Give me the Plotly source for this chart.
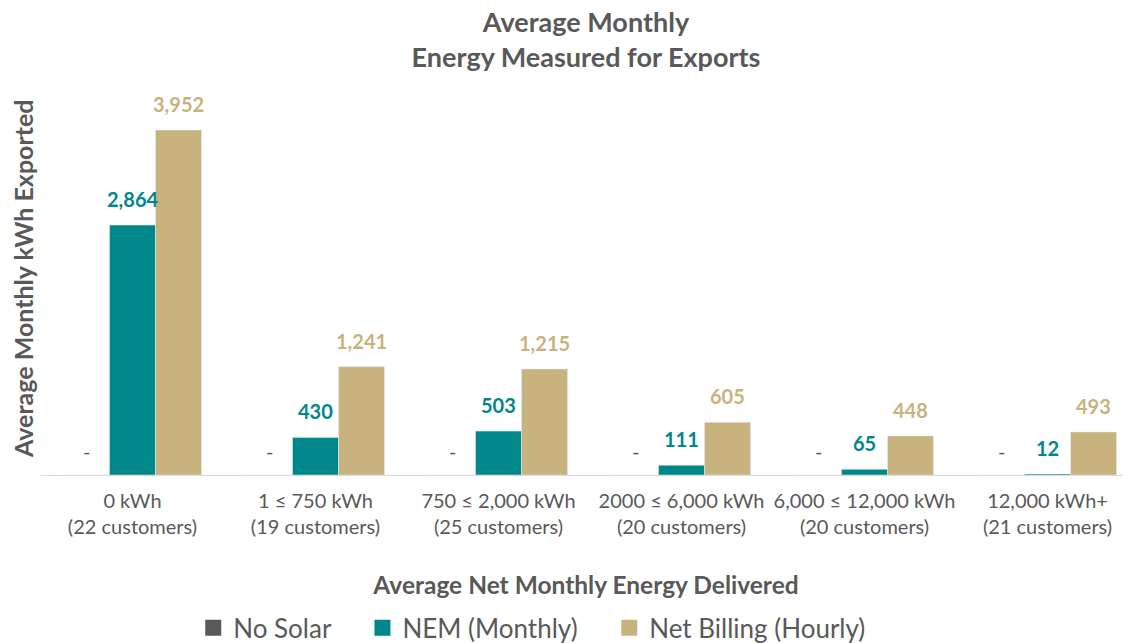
import plotly.graph_objects as go

categories = ["0 kWh<br>(22 customers)", "1 ≤ 750 kWh<br>(19 customers)",
              "750 ≤ 2,000 kWh<br>(25 customers)", "2000 ≤ 6,000 kWh<br>(20 customers)",
              "6,000 ≤ 12,000 kWh<br>(20 customers)", "12,000 kWh+<br>(21 customers)"]
no_solar = [0, 0, 0, 0, 0, 0]
nem_monthly = [2864, 430, 503, 111, 65, 12]
net_billing = [3952, 1241, 1215, 605, 448, 493]

series = [
    ("No Solar", no_solar, "#595959"),
    ("NEM (Monthly)", nem_monthly, "#00878A"),
    ("Net Billing (Hourly)", net_billing, "#C8B27D"),
]

FONT = "Lato, 'Open Sans', sans-serif"
GRAY = "#595959"
BARGAP = 0.246
xs = list(range(len(categories)))

fig = go.Figure()
annotations = []
n = len(series)
bw = (1 - BARGAP) / n
for k, (name, vals, color) in enumerate(series):
    fig.add_trace(go.Bar(x=xs, y=vals, name=name, marker_color=color,
                         hoverinfo="y", showlegend=False, legendgroup=name))
    lab_color = GRAY if k == 0 else color
    for i, v in enumerate(vals):
        annotations.append(dict(
            x=i + (k - (n - 1) / 2) * bw, y=v, xref="x", yref="y",
            text=f"<b>{v:,}</b>" if v else "-", showarrow=False,
            yanchor="bottom", yshift=12 if v else 10,
            font=dict(family=FONT, size=20, color=lab_color),
        ))
# legend entries with larger square swatches
for name, vals, color in series:
    fig.add_trace(go.Scatter(x=[None], y=[None], mode="markers", name=name + "\u00a0" * 4,
                             legendgroup=name,
                             marker=dict(symbol="square", size=16, color=color)))

# y-axis title placed as a rotated annotation
annotations.append(dict(
    text="<b>Average Monthly kWh Exported</b>", textangle=-90,
    xref="paper", yref="paper", x=-0.0165, y=0.5104,
    xanchor="center", yanchor="middle", showarrow=False,
    font=dict(family=FONT, size=25, color=GRAY),
))

W, H = 1123, 635
fig.update_layout(
    width=W, height=H,
    barmode="group", bargap=BARGAP, bargroupgap=0,
    plot_bgcolor="white", paper_bgcolor="white",
    margin=dict(l=33, r=0, t=83, b=168, autoexpand=False),
    title=dict(text="<b>Average Monthly<br>Energy Measured for Exports</b>",
               x=578 / W, xanchor="center", yref="container", y=1 - 24 / H,
               yanchor="middle",
               font=dict(family=FONT, size=27, color=GRAY)),
    font=dict(family=FONT, color=GRAY),
    xaxis=dict(tickvals=xs, ticktext=categories, range=[-0.5, 5.456],
               automargin=False,
               showline=True, linecolor="#D9D9D9", linewidth=1,
               ticks="outside", ticklen=8, tickcolor="rgba(0,0,0,0)",
               tickfont=dict(family=FONT, size=20, color=GRAY),
               showgrid=False, zeroline=False,
               title=dict(text="<b>Average Net Monthly Energy Delivered</b>",
                          standoff=39,
                          font=dict(family=FONT, size=24.5, color=GRAY))),
    yaxis=dict(range=[0, 4400], showticklabels=False, showgrid=False,
               automargin=False,
               zeroline=False, showline=False, ticks=""),
    legend=dict(orientation="h", x=0.4626, xanchor="center", y=-0.398, yanchor="middle",
                font=dict(family=FONT, size=26, color=GRAY),
                itemwidth=30, tracegroupgap=0, itemsizing="trace"),
    annotations=annotations,
)

fig.write_html("out.html")
